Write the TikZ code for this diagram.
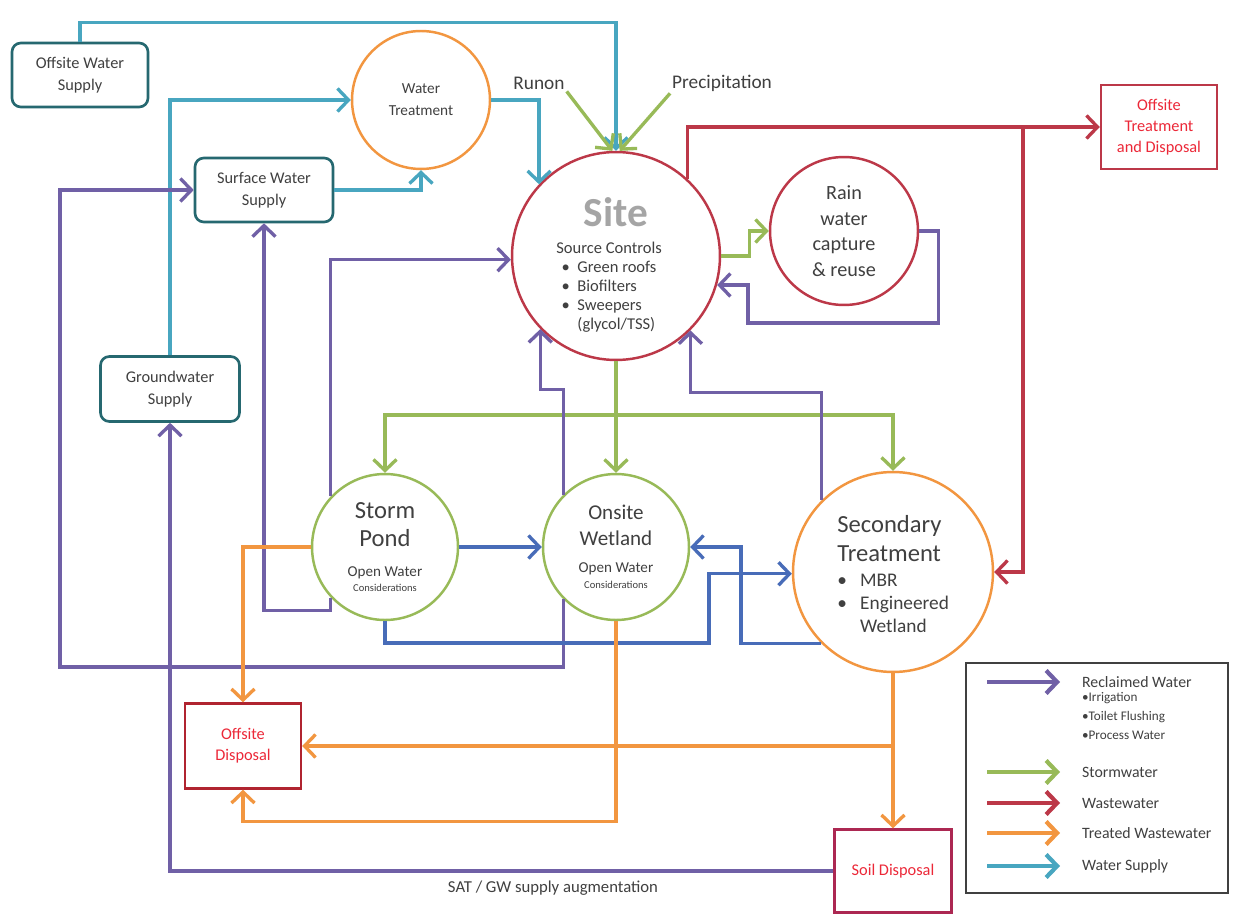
\documentclass[tikz,border=0pt]{standalone}
\usepackage{fontspec}
\setmainfont{Carlito}
\usetikzlibrary{arrows.meta}

\definecolor{reclaim}{RGB}{112,96,166}
\definecolor{stormgreen}{RGB}{152,186,88}
\definecolor{wastered}{RGB}{188,56,72}
\definecolor{treatorange}{RGB}{242,150,64}
\definecolor{supplyteal}{RGB}{72,166,192}
\definecolor{pondblue}{RGB}{72,108,184}
\definecolor{boxteal}{RGB}{38,104,112}
\definecolor{disposered}{RGB}{236,40,56}
\definecolor{darkred}{RGB}{176,36,48}
\definecolor{soilred}{RGB}{172,40,82}
\definecolor{inkgray}{RGB}{64,64,64}
\definecolor{sitegray}{RGB}{165,165,165}

\tikzset{
  flow/.style={line width=1.9pt,-{Straight Barb[length=2.2mm,width=4.6mm]}},
  reclaimed/.style={flow,draw=reclaim},
  stormflow/.style={flow,draw=stormgreen},
  wasteflow/.style={flow,draw=wastered},
  treatedflow/.style={flow,draw=treatorange},
  supplyflow/.style={flow,draw=supplyteal},
  pondflow/.style={flow,draw=pondblue},
  supplybox/.style={draw=boxteal,line width=1.5pt,rounded corners=5pt,fill=white,
    minimum width=2.76cm,minimum height=1.28cm,align=center,text=inkgray,
    font=\fontsize{9.3}{12.5}\selectfont},
  disposal/.style={draw=wastered,line width=1.4pt,fill=white,align=center,
    text=disposered,font=\fontsize{9.3}{12}\selectfont},
  unit/.style={circle,draw,line width=1.4pt,fill=white,inner sep=0pt,align=center,text=inkgray},
  note/.style={text=inkgray,inner sep=1pt},
}

\begin{document}
\begin{tikzpicture}[x=0.02cm,y=-0.02cm]
\path[use as bounding box,fill=white] (0,0) rectangle (1252,919);

% supplies and treatment
\node[supplybox,minimum width=2.72cm] (ows) at (80,75) {Offsite Water\\Supply};
\node[unit,draw=treatorange,minimum size=2.76cm,font=\fontsize{8.7}{12.5}\selectfont] (wt) at (421,100) {Water\\Treatment};
\node[supplybox] (sws) at (264,190) {Surface Water\\Supply};
\node[supplybox,minimum width=2.78cm,minimum height=1.3cm] (gws) at (170,389) {Groundwater\\Supply};

% site
\node[unit,draw=wastered,minimum size=4.16cm] (site) at (616,256) {};
\node[text=sitegray,font=\fontsize{23.5}{26}\selectfont\bfseries] (sitename) at (616,212) {Site};
\node[note,anchor=west,inner sep=0pt,align=left,font=\fontsize{9.4}{10.9}\selectfont] (sitectl) at (556,287)
  {Source Controls\\
   \hspace*{3pt}\makebox[9pt][l]{\textbullet}Green roofs\\
   \hspace*{3pt}\makebox[9pt][l]{\textbullet}Biofilters\\
   \hspace*{3pt}\makebox[9pt][l]{\textbullet}Sweepers\\
   \hspace*{12pt}(glycol/TSS)};
\node[unit,draw=wastered,minimum size=2.96cm,font=\fontsize{11.5}{14.6}\selectfont] (rain) at (844,231) {Rain\\water\\capture\\\& reuse};
\node[disposal,minimum width=2.32cm,minimum height=1.68cm] (otd) at (1159,127) {Offsite\\Treatment\\and Disposal};

% ponds and treatment
\node[unit,draw=stormgreen,minimum size=2.92cm,font=\fontsize{14}{16}\selectfont] (storm) at (385,547)
  {Storm\\Pond\\[1.5pt]{\fontsize{8.6}{10}\selectfont Open Water}\\[-7.5pt]{\fontsize{6}{7}\selectfont Considerations}};
\node[unit,draw=stormgreen,minimum size=2.92cm,font=\fontsize{12}{14.7}\selectfont] (wetland) at (616,547)
  {Onsite\\Wetland\\[0.6pt]{\fontsize{8.6}{10}\selectfont Open Water}\\[-5.7pt]{\fontsize{6}{7}\selectfont Considerations}};
\node[unit,draw=treatorange,minimum size=4cm] (sec) at (893,572) {};
\node[note,anchor=west,inner sep=0pt,align=left,font=\fontsize{11}{13}\selectfont] (sectxt) at (837,574)
  {{\fontsize{14}{16}\selectfont Secondary}\\[3.4pt]
   {\fontsize{14}{16}\selectfont Treatment}\\[1.7pt]
   \makebox[13pt][l]{\textbullet}MBR\\
   \makebox[13pt][l]{\textbullet}Engineered\\
   \hspace*{13pt}Wetland};

% disposal
\node[disposal,draw=darkred,minimum width=2.32cm,minimum height=1.7cm] (od) at (243,746) {Offsite\\Disposal};
\node[disposal,draw=soilred,minimum width=2.34cm,minimum height=1.66cm] (soil) at (893,871) {Soil Disposal};

\node[note,font=\fontsize{11}{13}\selectfont] (runon) at (539,83) {Runon};
\node[note,font=\fontsize{11}{13}\selectfont] (precip) at (722,83) {Precipitation};
\node[note,font=\fontsize{9.5}{11}\selectfont] (sat) at (553,888) {SAT / GW supply augmentation};

% water supply
\draw[supplyflow] (ows.north) -- ++(0,-19) -| (site.north);
\draw[supplyflow] (gws.north) |- (wt.west);
\draw[supplyflow] (sws.east) -| (wt.south);
\draw[supplyflow] (wt.east) -| (site.137);

% stormwater
\draw[stormflow] (runon.south east) -- (site.92);
\draw[stormflow] (precip.south west) -- (site.88);
\draw[stormflow] (site.east) -- ++(28,0) |- (rain.west);
\draw[stormflow] (site.south) -- (wetland.north);
\coordinate (gj) at (616,415);
\draw[stormflow] (gj) -| (storm.north);
\draw[stormflow] (gj) -| (sec.north);

% wastewater
\draw[wasteflow] (site.47) |- (otd.west);
\coordinate (rj) at (1023,127);
\draw[wasteflow] (rj) |- (sec.east);

% reclaimed water
\draw[reclaimed] (rain.east) -- ++(19,0) |- (748,323) |- (site.-16);
\draw[reclaimed] (storm.137) |- (site.182);
\draw[reclaimed] (wetland.135) -- ++(0,-105) -| (site.-136);
\draw[reclaimed] (sec.135) -- ++(0,-108) -| (site.-45);
\draw[reclaimed] (wetland.-135) |- (60,667) |- (sws.west);
\draw[reclaimed] (storm.-137) -- ++(0,13) -| (sws.south);
\draw[reclaimed] (soil.west) -| (gws.south);

% pond to wetland
\draw[pondflow] (storm.east) -- (wetland.west);
\draw[pondflow] (storm.south) |- (709,643) |- (sec.181);
\draw[pondflow] (sec.-135) -| (741,547) -- (wetland.east);

% treated wastewater
\draw[treatedflow] (storm.west) -| (od.north);
\draw[treatedflow] (wetland.south) -- ++(0,200) -| (od.south);
\draw[treatedflow] (sec.south) |- (od.east);
\draw[treatedflow] (sec.south) -- (soil.north);

% legend
\node[draw=inkgray,line width=0.8pt,minimum width=5.24cm,minimum height=4.6cm] (legend) at (1097,778) {};
\foreach \y/\kind/\lbl in {682/reclaimed/Reclaimed Water,772/stormflow/Stormwater,803/wasteflow/Wastewater,833/treatedflow/Treated Wastewater,866/supplyflow/Water Supply}
{
  \draw[\kind,line width=2.4pt] (987,\y) -- (1060,\y);
  \node[note,anchor=west,font=\fontsize{9}{11}\selectfont] (key\y) at (1080,\y) {\lbl};
}
\node[note,anchor=north west,align=left,font=\fontsize{7.5}{11}\selectfont] (keyuse) at (1080,690)
  {\textbullet Irrigation\\\textbullet Toilet Flushing\\\textbullet Process Water};

\end{tikzpicture}
\end{document}
